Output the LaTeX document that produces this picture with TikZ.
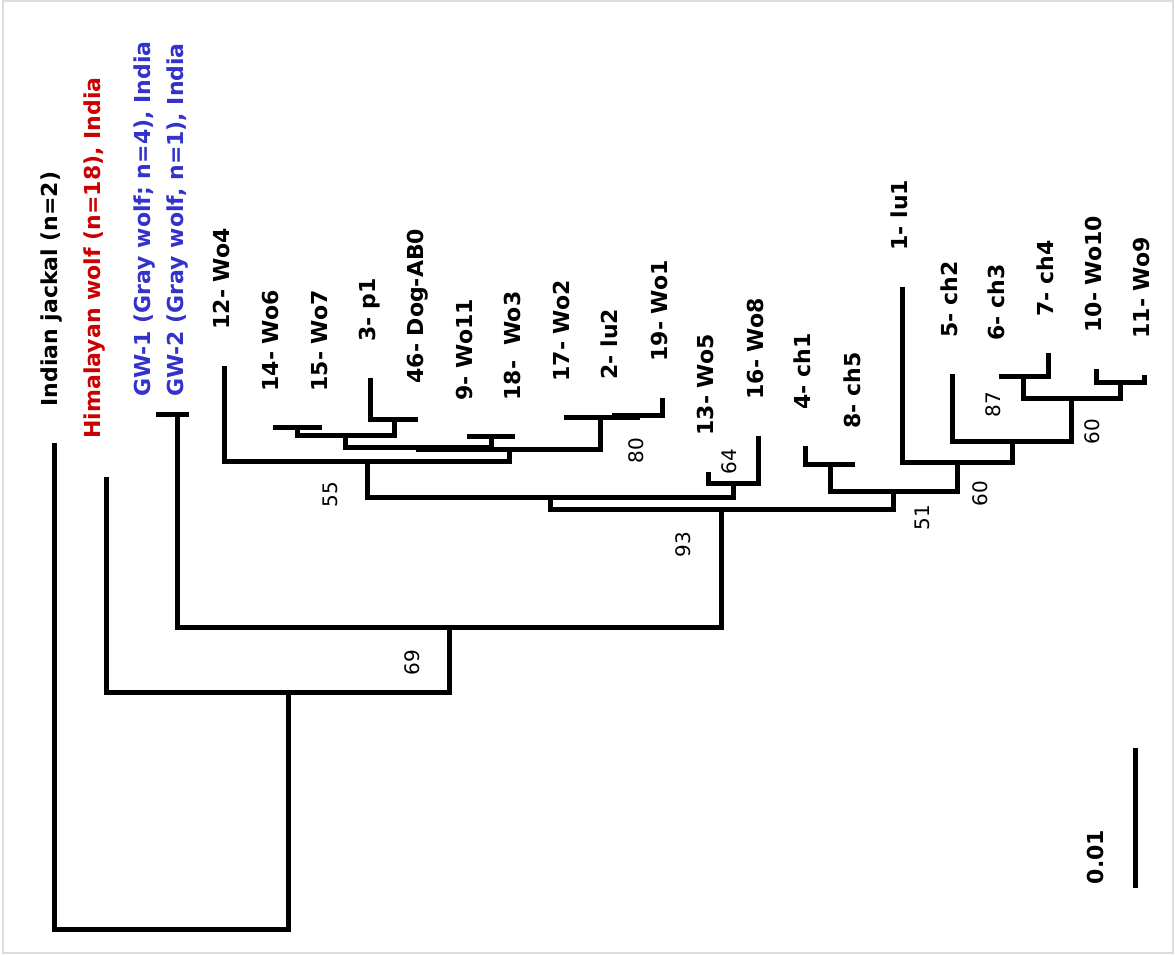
\documentclass[tikz,border=0pt]{standalone}
\usepackage{fontspec}
\setmainfont{DejaVu Sans}
\usepackage{tikz}
\usetikzlibrary{positioning, calc}
\definecolor{hwred}{RGB}{204,0,0}
\definecolor{gwblue}{RGB}{51,51,204}
\definecolor{framegray}{RGB}{220,220,220}

\begin{document}
\begin{tikzpicture}[x=0.5pt, y=-0.5pt,
    br/.style = {draw, line width=2.5pt, line join=miter}, % branches of the tree
    taxon/.style = {rotate=90, anchor=base west, inner sep=0pt,
      font=\fontsize{11}{13}\selectfont\bfseries}, % tip labels
    boot/.style = {rotate=90, inner sep=0pt,
      font=\fontsize{10}{12}\selectfont}, % bootstrap values
  ]
  \useasboundingbox (0,0) rectangle (1175,956);
  \draw[framegray, line width=1pt] (3,1) rectangle (1173,953);

  % tips (upper end of each terminal branch)
  \foreach \nm/\x/\y in {jk/54/443, hw/106/477, gwa/156/415, gwb/189/415,
    t12/224/366, t14/273/428, t15/322/428, t3/370/378, t46/418/420,
    t9/467/437, t18/515/437, t17/564/418, t2/612/416, t19/662/398,
    t13/708/472, t16/758/436, t4/805/446, t8/855/465, t1/902/287,
    t5/952/374, t6/999/377, t7/1048/353, t10/1096/369, t11/1144/375}
  \coordinate (\nm) at (\x,\y);

  % internal nodes
  \foreach \nm/\x/\y in {n1415/297/428, n346/394/420, nA/345/436,
    n918/491/437, nB/418/448, n219/637/416, nC/600/418, nD/509/450,
    nE/367/462, n1316/733/484, nF/550/498, n48/830/465, n67/1023/377,
    n1011/1120/383, nG/1071/399, nH/1012/442, nI/957/463, nJ/893/492,
    nK/721/510, ngw/177/415, nL/449/628, nM/288/693, root/171/930}
  \coordinate (\nm) at (\x,\y);

  % branches: left child / node / right child
  \foreach \a/\p/\b in {t14/n1415/t15, t3/n346/t46, n1415/nA/n346,
    t9/n918/t18, nA/nB/n918, t2/n219/t19, t17/nC/n219, nB/nD/nC,
    t12/nE/nD, t13/n1316/t16, nE/nF/n1316, t4/n48/t8, t6/n67/t7,
    t10/n1011/t11, n67/nG/n1011, t5/nH/nG, t1/nI/nH, n48/nJ/nI,
    nF/nK/nJ, gwa/ngw/gwb, ngw/nL/nK, hw/nM/nL, jk/root/nM}
  \draw[br] (\a) |- (\p) -| (\b);

  % tip labels
  \foreach \nm/\tx in {t12/{12- Wo4}, t14/{14- Wo6}, t15/{15- Wo7},
    t3/{3- p1}, t46/{46- Dog-AB0}, t9/{9- Wo11}, t18/{18-~ Wo3},
    t17/{17- Wo2}, t2/{2- lu2}, t19/{19- Wo1}, t13/{13- Wo5},
    t16/{16- Wo8}, t4/{4- ch1}, t8/{8- ch5}, t1/{1- lu1}, t5/{5- ch2},
    t6/{6- ch3}, t7/{7- ch4}, t10/{10- Wo10}, t11/{11- Wo9}}
  \node[taxon] (l-\nm) at ([shift={(5,-36)}]\nm) {\tx};

  \node[taxon] (l-jk) at ([shift={(3,-36)}]jk) {Indian jackal (n=2)};
  \node[taxon, hwred] (l-hw) at ([shift={(-6,-38)}]hw)
    {Himalayan wolf (n=18), India};
  \node[taxon, gwblue] (l-gwa) at ([shift={(-6,-18)}]gwa)
    {GW-1 (Gray wolf; n=4), India};
  \node[taxon, gwblue] (l-gwb) at ([shift={(-5,-18)}]gwb)
    {GW-2 (Gray wolf, n=1), India};

  % bootstrap values
  \foreach \nm/\x/\y/\v in {b55/330/495/55, b80/636/451/80, b64/729/462/64,
    b93/683/545/93, b69/412/663/69, b51/922/518/51, b60a/980/494/60,
    b87/993/405/87, b60b/1092/432/60}
  \node[boot] (\nm) at (\x,\y) {\v};

  % scale bar
  \coordinate (sb1) at (1135,748);
  \coordinate (sb2) at (1135,888);
  \draw[br] (sb1) -- (sb2);
  \node[taxon, anchor=center] (sblab) at (1095,857) {0.01};
\end{tikzpicture}
\end{document}
